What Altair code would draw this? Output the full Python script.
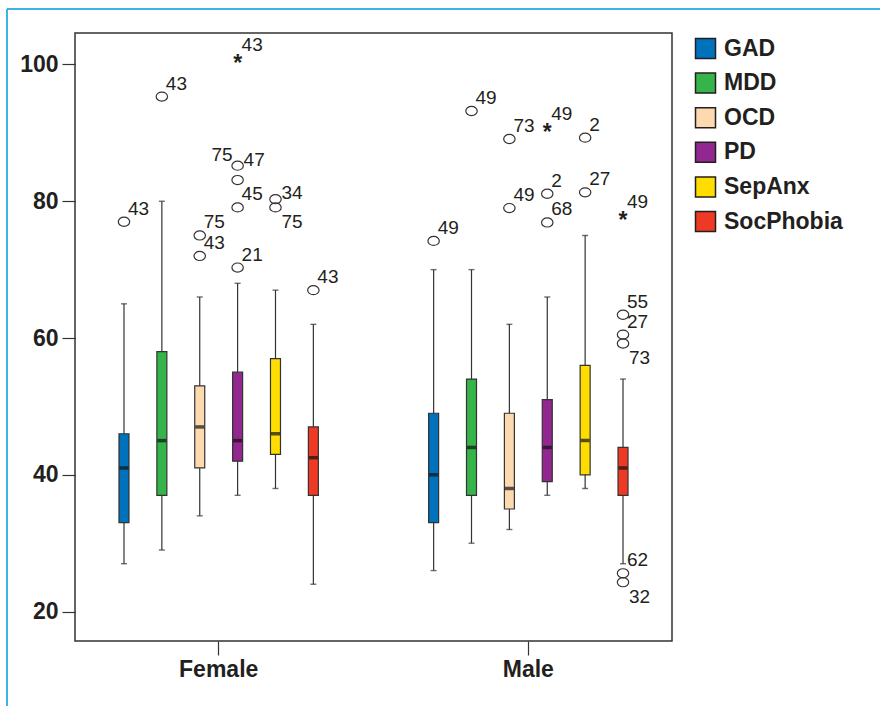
import altair as alt
import pandas as pd

FONT = "Liberation Sans"
INK = "#231F20"

sexes = ["Female", "Male"]
diagnoses = ["GAD", "MDD", "OCD", "PD", "SepAnx", "SocPhobia"]
colors = ["#0072BC", "#35B44A", "#FDD9AF", "#92278F", "#FFDD00", "#EE3A24"]

# box statistics, in the order of `diagnoses`
f_low = [27, 29, 34, 37, 38, 24]
f_q1 = [33, 37, 41, 42, 43, 37]
f_med = [41, 45, 47, 45, 46, 42.5]
f_q3 = [46, 58, 53, 55, 57, 47]
f_high = [65, 80, 66, 68, 67, 62]

m_low = [26, 30, 32, 37, 38, 27]
m_q1 = [33, 37, 35, 39, 40, 37]
m_med = [40, 44, 38, 44, 45, 41]
m_q3 = [49, 54, 49, 51, 56, 44]
m_high = [70, 70, 62, 66, 75, 54]

# outliers ("o" = circle, "*" = extreme)
out_sex = ["Female"] * 12 + ["Male"] * 15
out_diag = ["GAD", "MDD", "OCD", "OCD", "PD", "PD", "PD", "PD", "PD", "SepAnx", "SepAnx", "SocPhobia",
            "GAD", "MDD", "OCD", "OCD", "PD", "PD", "PD", "SepAnx", "SepAnx",
            "SocPhobia", "SocPhobia", "SocPhobia", "SocPhobia", "SocPhobia", "SocPhobia"]
out_value = [77, 95.3, 75, 72, 101, 85.2, 83.1, 79.1, 70.3, 80.3, 79.1, 67,
             74.2, 93.2, 89.1, 79, 90.9, 81.1, 76.9, 89.3, 81.3,
             78, 63.4, 60.5, 59.2, 25.6, 24.3]
out_kind = ["o", "o", "o", "o", "*", "o", "o", "o", "o", "o", "o", "o",
            "o", "o", "o", "o", "*", "o", "o", "o", "o",
            "*", "o", "o", "o", "o", "o"]

# case labels attached to outliers
lab_sex = ["Female"] * 12 + ["Male"] * 15
lab_diag = ["GAD", "MDD", "OCD", "OCD", "PD", "PD", "PD", "PD", "PD", "SepAnx", "SepAnx", "SocPhobia",
            "GAD", "MDD", "OCD", "OCD", "PD", "PD", "PD", "SepAnx", "SepAnx",
            "SocPhobia", "SocPhobia", "SocPhobia", "SocPhobia", "SocPhobia", "SocPhobia"]
lab_value = [77, 95.3, 75, 72, 101, 85.2, 85.2, 79.1, 70.3, 80.3, 79.1, 67,
             74.2, 93.2, 89.1, 79, 90.9, 81.1, 76.9, 89.3, 81.3,
             78, 63.4, 60.5, 59.2, 25.6, 24.3]
lab_text = ["43", "43", "75", "43", "43", "75", "47", "45", "21", "34", "75", "43",
            "49", "49", "73", "49", "49", "2", "68", "2", "27",
            "49", "55", "27", "73", "62", "32"]
lab_side = ["ur", "ur", "ur", "ur", "ur", "ul", "r", "ur", "ur", "r", "dr", "ur",
            "ur", "ur", "ur", "ur", "ur", "ur", "ur", "ur", "ur",
            "ur", "ur", "ur", "dr", "ur", "dr"]

rows = []
for sex, lo, q1, md, q3, hi in [("Female", f_low, f_q1, f_med, f_q3, f_high),
                                ("Male", m_low, m_q1, m_med, m_q3, m_high)]:
    for i, d in enumerate(diagnoses):
        rows.append(dict(sex=sex, diag=d, low=lo[i], q1=q1[i], med=md[i], q3=q3[i], high=hi[i]))
box_df = pd.DataFrame(rows)
out_df = pd.DataFrame(dict(sex=out_sex, diag=out_diag, value=out_value, kind=out_kind))
lab_df = pd.DataFrame(dict(sex=lab_sex, diag=lab_diag, value=lab_value, text=lab_text, side=lab_side))

x_enc = alt.X("sex:N", title=None,
              scale=alt.Scale(domain=sexes, paddingInner=0.2, paddingOuter=0.064),
              axis=alt.Axis(labelFontSize=23, labelFontWeight="bold", labelColor=INK, labelFont=FONT,
                            tickSize=14, tickColor="#333333", tickWidth=1.2, labelPadding=3,
                            domain=False, grid=False, labelAngle=0))
xo_enc = alt.XOffset("diag:N", scale=alt.Scale(domain=diagnoses, paddingInner=0.736, paddingOuter=0.638))
yscale = alt.Scale(domain=[15.7, 104.6], nice=False, zero=False)
y_axis = alt.Axis(values=[20, 40, 60, 80, 100], labelFontSize=23, labelFontWeight="bold", labelColor=INK,
                  labelFont=FONT, tickSize=13, tickColor="#333333", tickWidth=1.2, labelPadding=4,
                  domain=False, grid=False, title=None)

base_box = alt.Chart(box_df)

whisker = base_box.mark_rule(color="#333333", strokeWidth=1.2).encode(
    x=x_enc, xOffset=xo_enc,
    y=alt.Y("low:Q", scale=yscale, axis=y_axis, title=None), y2="high:Q")
cap_lo = base_box.mark_tick(color="#333333", size=6, thickness=1.4).encode(
    x=x_enc, xOffset=xo_enc, y=alt.Y("low:Q", scale=yscale, title=None))
cap_hi = base_box.mark_tick(color="#333333", size=6, thickness=1.4).encode(
    x=x_enc, xOffset=xo_enc, y=alt.Y("high:Q", scale=yscale, title=None))
boxes = base_box.mark_bar(stroke="#333333", strokeWidth=1.2).encode(
    x=x_enc, xOffset=xo_enc,
    y=alt.Y("q1:Q", scale=yscale, title=None), y2="q3:Q",
    color=alt.Color("diag:N", scale=alt.Scale(domain=diagnoses, range=colors),
                    legend=alt.Legend(title=None, orient="none", legendX=619, legendY=4)))
medians = base_box.mark_tick(color="#111111", size=9, thickness=3.5).encode(
    x=x_enc, xOffset=xo_enc, y=alt.Y("med:Q", scale=yscale, title=None))

ellipse = "M -1 0 A 1 0.8 0 1 0 1 0 A 1 0.8 0 1 0 -1 0 Z"
circles = alt.Chart(out_df).transform_filter(alt.datum.kind == "o").mark_point(
    shape=ellipse, filled=False, stroke="#333333", strokeWidth=1.2, size=130, opacity=1).encode(
    x=x_enc, xOffset=xo_enc, y=alt.Y("value:Q", scale=yscale, title=None))
stars = alt.Chart(out_df).transform_filter(alt.datum.kind == "*").mark_text(
    text="*", font=FONT, fontSize=23, fontWeight="bold", color=INK, baseline="alphabetic", dy=13).encode(
    x=x_enc, xOffset=xo_enc, y=alt.Y("value:Q", scale=yscale, title=None))

side_style = {"ur": dict(align="left", dx=4, dy=-13),
              "r": dict(align="left", dx=6, dy=-6),
              "ul": dict(align="right", dx=-5, dy=-11),
              "dr": dict(align="left", dx=6, dy=15)}
label_layers = []
for side, st in side_style.items():
    label_layers.append(
        alt.Chart(lab_df).transform_filter(alt.datum.side == side).mark_text(
            font=FONT, fontSize=19, color=INK, baseline="middle", **st).encode(
            x=x_enc, xOffset=xo_enc, y=alt.Y("value:Q", scale=yscale, title=None),
            text="text:N"))

border_left = alt.Chart(box_df).mark_rule(color="#3DB5E6", strokeWidth=1.5).encode(
    x=alt.value(-68), y=alt.value(-24), y2=alt.value(700))
border_top = alt.Chart(box_df).mark_rule(color="#3DB5E6", strokeWidth=1.5).encode(
    x=alt.value(-68), x2=alt.value(820), y=alt.value(-24))

chart = alt.layer(whisker, cap_lo, cap_hi, boxes, medians, circles, stars, *label_layers,
                  border_left, border_top).properties(
    width=597, height=608,
    autosize=alt.AutoSizeParams(type="none"),
    padding={"left": 75, "top": 33, "right": 208, "bottom": 65},
    background="white",
).configure_view(stroke="#333333", strokeWidth=1.5).configure_legend(
    labelFontSize=23, labelFontWeight="bold", labelFont=FONT, labelColor=INK,
    symbolType="square", symbolSize=400, symbolStrokeWidth=1.5, symbolStrokeColor=INK,
    symbolOpacity=1, rowPadding=7.6, labelOffset=7, padding=0, offset=0
).configure_text(font=FONT)

chart.save("out.html", embed_options={"renderer": "svg", "actions": False})
